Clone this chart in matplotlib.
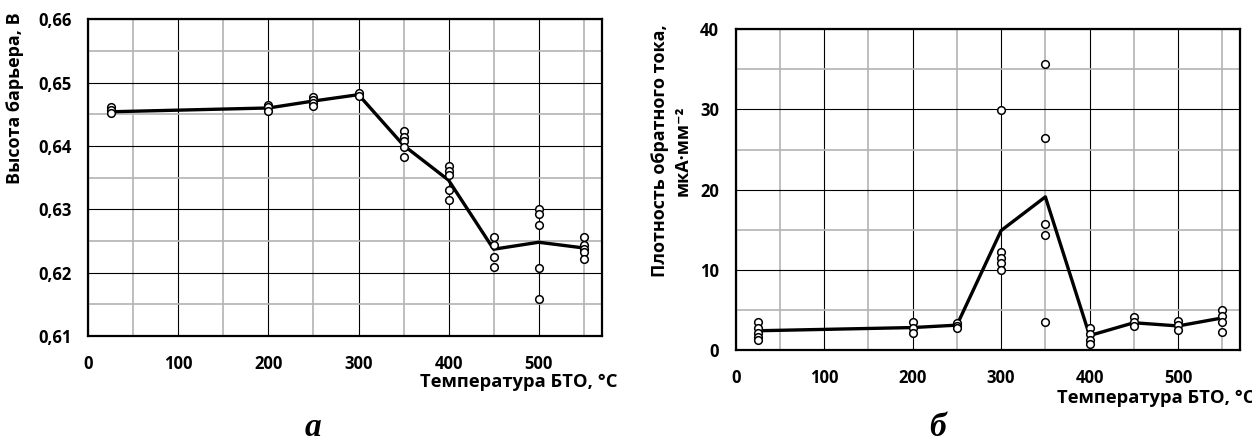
import matplotlib
matplotlib.use("Agg")
import matplotlib.pyplot as plt
from matplotlib.ticker import MultipleLocator, FuncFormatter

plt.rcParams["font.family"] = ["Open Sans", "DejaVu Sans"]
plt.rcParams["font.weight"] = "bold"

# temperatures of BTO treatment, deg C
temps = [25, 200, 250, 300, 350, 400, 450, 500, 550]

# (a) barrier height, V: individual samples and mean line
barrier_pts = [
    [0.6462, 0.6457, 0.6452],
    [0.6464, 0.6461, 0.6456],
    [0.6478, 0.6473, 0.6468, 0.6463],
    [0.6484, 0.6479],
    [0.6424, 0.6414, 0.6408, 0.6398, 0.6382],
    [0.6368, 0.6361, 0.6354, 0.6331, 0.6315],
    [0.6256, 0.6244, 0.6225, 0.6209],
    [0.6300, 0.6293, 0.6276, 0.6207, 0.6158],
    [0.6256, 0.6243, 0.6238, 0.6232, 0.6222],
]
barrier_mean = [0.6454, 0.6460, 0.6471, 0.6481, 0.6401, 0.6346, 0.6237, 0.6248, 0.6239]

# (b) reverse current density, uA/mm^2
current_pts = [
    [3.5, 2.8, 2.1, 1.6, 1.3],
    [3.5, 2.8, 2.1],
    [3.4, 3.0, 2.7],
    [29.9, 12.2, 11.5, 10.8, 10.0],
    [35.7, 26.4, 15.7, 14.3, 3.5],
    [2.8, 2.0, 1.3, 0.7],
    [4.1, 3.5, 3.0],
    [3.6, 3.1, 2.5],
    [5.0, 4.2, 3.5, 2.2],
]
current_mean = [2.4, 2.8, 3.1, 14.9, 19.1, 1.8, 3.4, 3.0, 4.0]

W, H = 1252, 441
fig = plt.figure(figsize=(W / 100, H / 100), dpi=100)


def px(x0, y0, x1, y1):
    return [x0 / W, 1 - y1 / H, (x1 - x0) / W, (y1 - y0) / H]


def style(ax, ylim, ymaj, ymin, fmt):
    ax.set_xlim(0, 570)
    ax.set_ylim(*ylim)
    ax.xaxis.set_major_locator(MultipleLocator(100))
    ax.xaxis.set_minor_locator(MultipleLocator(50))
    ax.yaxis.set_major_locator(MultipleLocator(ymaj))
    ax.yaxis.set_minor_locator(MultipleLocator(ymin))
    ax.yaxis.set_major_formatter(FuncFormatter(fmt))
    ax.set_xticks([0, 100, 200, 300, 400, 500])
    ax.grid(which="major", color="black", lw=0.8)
    ax.grid(which="minor", color="#b3b3b3", lw=1.2)
    ax.set_axisbelow(True)
    ax.tick_params(which="both", length=0, labelsize=12)
    ax.tick_params(axis="x", pad=14)
    ax.tick_params(axis="y", pad=12)
    for s in ax.spines.values():
        s.set_linewidth(1.6)


def draw(ax, pts, mean):
    ax.plot(temps, mean, color="black", lw=2.4, zorder=3)
    for t, vals in zip(temps, pts):
        ax.plot([t] * len(vals), vals, "o", ms=5.5, mfc="white", mec="black",
                mew=1.1, zorder=4)


ax1 = fig.add_axes(px(88.3, 19.3, 601.7, 336))
style(ax1, (0.61, 0.66), 0.01, 0.005, lambda v, p: f"{v:.2f}".replace(".", ","))
draw(ax1, barrier_pts, barrier_mean)

ax2 = fig.add_axes(px(735.7, 29.3, 1240, 350))
style(ax2, (0, 40), 10, 5, lambda v, p: f"{v:.0f}")
draw(ax2, current_pts, current_mean)

fig.text(15 / W, 1 - 98 / H, "Высота барьера, В", rotation=90, ha="center",
         va="center", fontsize=13)
fig.text(617 / W, 1 - 382 / H, "Температура БТО, °С", ha="right", va="center",
         fontsize=13.2)
fig.text(671 / W, 1 - 151 / H, "Плотность обратного тока,\nмкА·мм⁻²", rotation=90,
         ha="center", va="center", multialignment="center", fontsize=13,
         linespacing=1.35)
fig.text(1057 / W, 1 - 398 / H, "Температура БТО, °С", ha="left", va="center",
         fontsize=13.2)

fig.text(313 / W, 1 - 428 / H, "а", family="Liberation Serif", style="italic",
         weight="bold", fontsize=24, ha="center", va="center")
fig.text(937 / W, 1 - 428 / H, "б", family="Liberation Serif", style="italic",
         weight="bold", fontsize=24, ha="center", va="center")

fig.savefig("out.png", dpi=100)
